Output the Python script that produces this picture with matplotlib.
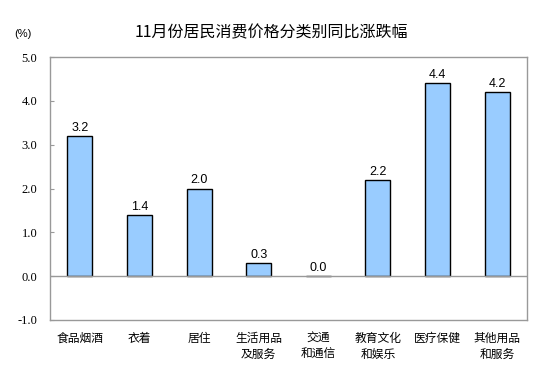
import matplotlib
matplotlib.use('Agg')
import matplotlib.pyplot as plt
import numpy as np

# data
categories = ['食品烟酒', '衣着', '居住', '生活用品\n及服务', '交通\n和通信',
              '教育文化\n和娱乐', '医疗保健', '其他用品\n和服务']
values = [3.2, 1.4, 2.0, 0.3, 0.0, 2.2, 4.4, 4.2]
yticks = [-1.0, 0.0, 1.0, 2.0, 3.0, 4.0, 5.0]

plt.rcParams['font.family'] = ['Noto Sans CJK SC', 'DejaVu Sans']

fig = plt.figure(figsize=(5.51, 3.76), dpi=100)
ax = fig.add_axes([0.0907, 0.149, 0.8658, 0.699])

x = np.arange(len(categories))
ax.bar(x, values, width=0.42, color='#99CCFF', edgecolor='black', linewidth=1.0, zorder=3)
# gray zero line sits over the bar bottoms
ax.axhline(0, color='#999999', linewidth=1.0, zorder=3.5)

for xi, v in zip(x, values):
    ax.text(xi, v + 0.05, '%.1f' % v, ha='center', va='bottom',
            fontsize=9, family='Liberation Sans', zorder=4)

ax.set_xlim(-0.5, len(categories) - 0.5)
ax.set_ylim(-1.0, 5.0)
ax.set_yticks(yticks)
ax.set_yticklabels(['%.1f' % t for t in yticks], family='Liberation Serif', fontsize=9)
ax.tick_params(axis='y', direction='in', length=3, color='#999999', pad=9)

ax.set_xticks([])
for xi, lab in zip(x, categories):
    ax.text(xi, -1.28, lab, ha='center', va='top', fontsize=8.5, linespacing=1.25)

for s in ax.spines.values():
    s.set_color('#999999')
    s.set_linewidth(1.0)

fig.text(0.492, 0.912, '11月份居民消费价格分类别同比涨跌幅', ha='center', va='center', fontsize=11.5)
fig.text(0.042, 0.91, '(%)', ha='center', va='center', fontsize=8, family='Liberation Sans')

fig.savefig('out.png', dpi=100)
